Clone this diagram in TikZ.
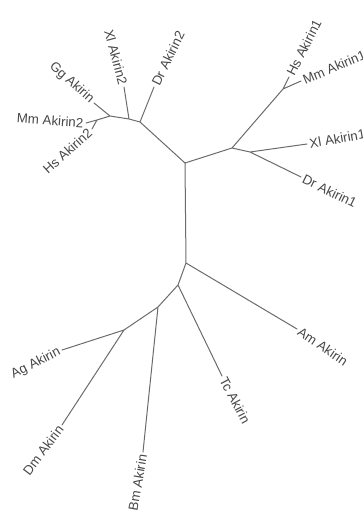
\documentclass[tikz,border=0pt]{standalone}
\usepackage{fontspec}
\setmainfont{Liberation Sans}
\begin{document}
\begin{tikzpicture}[x=1pt,y=-1pt,
  branch/.style={draw=black!58,line width=1pt,line cap=round},
  leaf/.style={font=\fontsize{13.3}{14}\selectfont,text=black!72,inner sep=2.5pt}]
\useasboundingbox (0,0) rectangle (363,517);
% internal junctions
\coordinate (A) at (185,163);
\coordinate (B) at (186,263);
\coordinate (C) at (140,122);
\coordinate (D) at (129,119);
\coordinate (E) at (110,116);
\coordinate (F) at (97,120);
\coordinate (G) at (232,148);
\coordinate (H) at (283,89);
\coordinate (I) at (250,152);
\coordinate (J) at (178,285);
\coordinate (K) at (158,307);
\coordinate (L) at (124,330);
% tips
\coordinate (tMm2) at (86,123);
\coordinate (tHs2) at (92,129);
\coordinate (tGg) at (94,103);
\coordinate (tXl2) at (124,87);
\coordinate (tDr2) at (154,87);
\coordinate (tHs1) at (289,77);
\coordinate (tMm1) at (301,81);
\coordinate (tXl1) at (307,144);
\coordinate (tDr1) at (301,177);
\coordinate (tAm) at (297,329);
\coordinate (tTc) at (222,376);
\coordinate (tBm) at (143,452);
\coordinate (tAg) at (62,350);
\coordinate (tDm) at (62,425);
% labels
\node[leaf,anchor=east,rotate=-4] (Mm2) at (tMm2) {Mm Akirin2};
\node[leaf,anchor=east,rotate=42] (Hs2) at (tHs2) {Hs Akirin2};
\node[leaf,anchor=east,rotate=-42] (Gg) at (tGg) {Gg Akirin};
\node[leaf,anchor=east,rotate=-75] (Xl2) at (tXl2) {Xl Akirin2};
\node[leaf,anchor=west,rotate=64] (Dr2) at (tDr2) {Dr Akirin2};
\node[leaf,anchor=west,rotate=63] (Hs1) at (tHs1) {Hs Akirin1};
\node[leaf,anchor=west,rotate=23] (Mm1) at (tMm1) {Mm Akirin1};
\node[leaf,anchor=west,rotate=10] (Xl1) at (tXl1) {Xl Akirin1};
\node[leaf,anchor=west,rotate=-26] (Dr1) at (tDr1) {Dr Akirin1};
\node[leaf,anchor=west,rotate=-34] (Am) at (tAm) {Am Akirin};
\node[leaf,anchor=west,rotate=-62] (Tc) at (tTc) {Tc Akirin};
\node[leaf,anchor=east,rotate=80] (Bm) at (tBm) {Bm Akirin};
\node[leaf,anchor=east,rotate=53] (Dm) at (tDm) {Dm Akirin};
\node[leaf,anchor=east,rotate=27] (Ag) at (tAg) {Ag Akirin};
% branches
\draw[branch] (A) -- (C) (C) -- (D) (D) -- (E) (E) -- (F)
  (F) -- (tMm2) (F) -- (tHs2) (E) -- (tGg) (D) -- (tXl2) (C) -- (tDr2);
\draw[branch] (A) -- (G) (G) -- (H) (H) -- (tHs1) (H) -- (tMm1)
  (G) -- (I) (I) -- (tXl1) (I) -- (tDr1);
\draw[branch] (A) -- (B) (B) -- (tAm) (B) -- (J) (J) -- (tTc)
  (J) -- (K) (K) -- (tBm) (K) -- (L) (L) -- (tAg) (L) -- (tDm);
\end{tikzpicture}
\end{document}
